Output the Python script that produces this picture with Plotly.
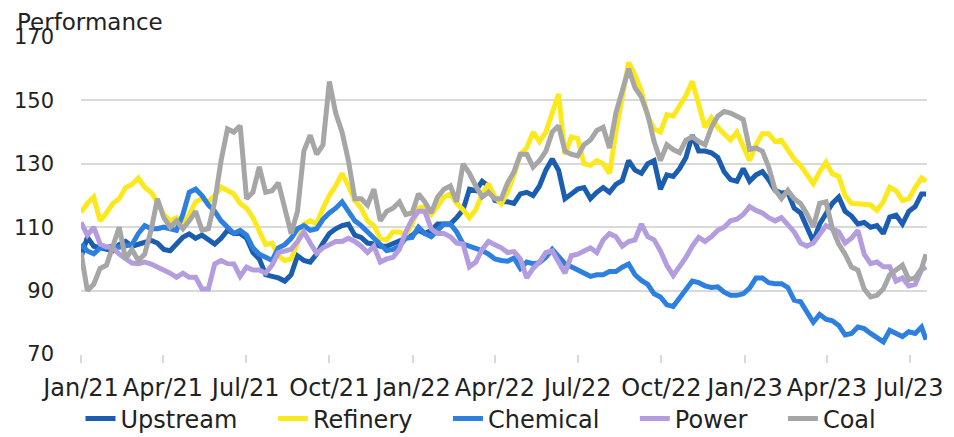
import pandas as pd
import plotly.graph_objects as go

# weekly observation dates (Fridays) from Jan 2021, plus the last observation
start_date = "2021-01-01"
n_weeks = 133
last_date = "2023-07-19"

upstream = [
    100.5, 106.8, 104, 103.5, 103, 102.6, 104.5, 105.5, 104, 104.7, 105, 105.8, 105, 103, 102.6, 104.5, 106.8,
    107.9, 106.5, 107.5, 106, 104.7, 106.5, 109, 108, 108, 106.5, 102, 100, 95, 94.5, 94, 93, 95,
    101, 99.5, 99, 101.5, 105, 108, 109.5, 110.5, 111, 107.5, 106.8, 105, 104.7, 104, 104, 104.7, 105.5,
    106.5, 107.5, 109, 108, 109, 111, 111, 111, 113, 115.5, 122, 121.5, 124.5, 123, 118.5,
    118, 118, 117.5, 120.5, 121, 120, 123, 128, 131.5, 128, 119, 120.5, 122, 122.5, 119, 121, 122.5,
    121, 123.5, 124.7, 131, 128, 127, 130, 131, 122, 126.5, 126, 128.5, 132, 139, 134, 134,
    133.5, 132, 127.5, 125, 124.5, 128.5, 124.5, 126.5, 127.5, 125, 121.6, 120.8, 121, 116, 114.5, 109.5,
    105.5, 111, 114, 117.5, 119.5, 115, 113.5, 111, 111.5, 110, 110.5, 108, 113.2, 113.8, 111, 115, 116.5,
    120.5, 120.5,
]

refinery = [
    114.7, 117.5, 119.5, 112, 114.5, 117.5, 119, 122.5, 123.5, 125.5, 122.6, 121, 118, 114, 112, 113, 111,
    114, 118, 119, 118, 120, 122.6, 121.5, 120.5, 117.5, 116, 113, 109, 104.5, 105, 101, 99.5, 100,
    105, 111, 112, 111, 116, 120, 123, 127, 123, 118.4, 116, 112, 110.5, 106.5, 106, 108.5, 108.5,
    107.5, 111, 116, 116.5, 114, 116.5, 119.5, 120.5, 117.5, 115.5, 113, 115.5, 120.5, 123.7, 119.5,
    117.4, 121, 126.5, 133, 135, 140, 137, 140, 146, 152, 133, 138.5, 138, 130, 129.5, 131, 130,
    127, 140, 152, 162, 158, 153, 145, 141, 140, 145.5, 145, 148, 151.5, 156, 148.5, 141.5,
    144.5, 141.5, 139.5, 137.5, 140, 135, 131, 136, 139.5, 139.5, 137, 137.4, 134.5, 131.5, 129.5, 126.8,
    123.7, 127.5, 130.5, 126.8, 126, 120, 117.5, 117.4, 117, 117, 115.3, 118, 122.6, 121.5, 118.4, 119,
    122.5, 125.5, 124.5,
]

chemical = [
    104.7, 102.5, 101.6, 103.5, 103.7, 104, 103.7, 104, 104.5, 108, 110.5, 109.5, 109.5, 110, 109.5, 109, 114,
    121, 122, 120, 117, 115, 112, 110, 108, 109, 107.5, 103.5, 101.5, 100.5, 99.5, 103.5, 104.5, 106.5,
    109.5, 110.5, 109, 109.5, 112.5, 114.5, 116, 118, 115, 112, 110.5, 108.5, 107, 104.7, 102.6, 103, 104,
    106.5, 106.8, 110, 108, 107, 109, 111, 111, 108.5, 104.7, 104, 103.5, 102.6, 101.5, 100,
    99.5, 99.3, 100.3, 97, 99, 98.5, 98.8, 100.5, 103, 101, 98.5, 97.5, 96.5, 95.5, 94.5, 95, 95,
    96, 96, 97.4, 98.4, 95, 93.2, 92, 89, 88, 85.5, 85, 87.5, 90, 93, 92.5, 91.5,
    91, 91.2, 89.5, 88.5, 88.5, 89, 90.8, 94, 94, 92.5, 92.2, 92.2, 91, 87, 86.5, 83,
    80, 82.5, 81, 80.5, 79, 76, 76.5, 78.5, 78, 76.5, 75, 73.8, 77.5, 76.5, 75.5, 77,
    76.5, 78.5, 74.5,
]

power = [
    111.5, 107.5, 110, 104.7, 103.7, 103.5, 101.5, 100, 98.7, 98.5, 99, 98.4, 97.5, 96.3, 95.5, 94.2, 95.5,
    94.2, 94.2, 90.5, 90.5, 98.4, 99.5, 98.5, 98.4, 94.5, 97.4, 96.5, 96.5, 95.5, 98, 102, 102.6, 103,
    105.5, 108.5, 105, 101.8, 103.5, 104.7, 105.5, 105.5, 106.5, 105.5, 104, 102, 104, 99, 100, 100.5, 103,
    108.5, 112.5, 115, 115, 109.5, 108, 108, 107, 105, 104.7, 97.5, 99, 103, 105.5, 104.5,
    103.5, 102, 102.3, 100, 94, 97, 99, 102, 102.5, 99, 95.5, 101, 101.5, 102.5, 103.5, 102, 106,
    108, 107, 104, 105.5, 106, 111, 107, 106, 102.5, 98, 94.8, 97.5, 100.5, 104, 106.8, 105.5,
    107, 109, 110, 112, 112.5, 114, 116.5, 115.3, 114.5, 113, 112, 113, 111, 108.5, 105, 104,
    105, 108, 110.5, 109.5, 108.5, 105, 106.5, 109, 101.5, 98.5, 99, 97.5, 97.5, 93, 94, 91.5,
    92, 96.5, 97.5,
]

coal = [
    102, 90, 92, 97, 98, 104, 110, 100, 103, 99.5, 101.5, 109, 119, 113, 110, 112, 109.5,
    112, 115, 109, 109.5, 118, 131, 141, 140, 142, 119, 121, 129, 121, 121.5, 124, 116, 108,
    115, 134, 139, 133, 136, 156, 146, 140, 131, 119, 119, 117, 122, 112, 115, 116, 118,
    114, 114.5, 120.5, 118, 114.5, 119.5, 122, 123, 118, 130, 127, 123, 119.5, 121, 119,
    119, 124, 127.5, 133, 133, 129, 131, 134, 140, 142, 134, 133, 132.5, 136, 137.5, 140.5, 141.5,
    135, 146, 153, 160, 154, 151, 145.5, 137, 131, 136, 134.5, 133.5, 137.5, 138.5, 137, 136,
    141.5, 145, 146.5, 146, 145, 144, 134.5, 135, 134, 129, 121.8, 119, 121.6, 119, 117.5, 114.2,
    110, 117.5, 118, 109.5, 104.7, 101.5, 97.4, 96.5, 90.5, 88, 88.5, 90.5, 95, 96.5, 98, 93.5,
    94, 97, 101.5,
]

series_names = ["Upstream", "Refinery", "Chemical", "Power", "Coal"]
series_colors = ["#1b5eb0", "#fbe91e", "#2d80e0", "#b39ddf", "#a6a6a6"]

tick_dates = ["2021-01-01", "2021-04-01", "2021-07-01", "2021-10-01", "2022-01-01", "2022-04-01",
              "2022-07-01", "2022-10-01", "2023-01-01", "2023-04-01", "2023-07-01"]
tick_labels = ["Jan/21", "Apr/21", "Jul/21", "Oct/21", "Jan/22", "Apr/22",
               "Jul/22", "Oct/22", "Jan/23", "Apr/23", "Jul/23"]
y_ticks = [70, 90, 110, 130, 150, 170]

dates = list(pd.date_range(start_date, periods=n_weeks, freq="7D")) + [pd.Timestamp(last_date)]

PAD = "\u00a0" * 4  # extra spacing between legend entries
fig = go.Figure()
all_series = [upstream, refinery, chemical, power, coal]
for i, (name, color, vals) in enumerate(zip(series_names, series_colors, all_series)):
    label = name + (PAD if i < len(series_names) - 1 else "")
    fig.add_trace(go.Scatter(x=dates, y=vals, mode="lines", name=label,
                             line=dict(color=color, width=5)))

FONT = "DejaVu Sans"
# the page body adds an 8px offset; the figure is sized to fill the rest of the window
fig.update_layout(
    width=946, height=429,
    margin=dict(l=73, r=27, t=29, b=83, autoexpand=False),
    paper_bgcolor="white", plot_bgcolor="white",
    font=dict(family=FONT, color="#222222", size=22),
    showlegend=True,
    legend=dict(orientation="h", xref="container", x=0.5, xanchor="center",
                yref="paper", y=-0.205, yanchor="middle",
                font=dict(size=24, family=FONT), itemwidth=30,
                bgcolor="rgba(0,0,0,0)"),
    xaxis=dict(type="date", range=["2021-01-01", "2023-07-20"], automargin=False,
               tickvals=tick_dates, ticktext=tick_labels, tickangle=0,
               ticks="outside", ticklen=8, tickwidth=1.5, tickcolor="#d9d9d9",
               showgrid=False, zeroline=False, showline=False,
               tickfont=dict(size=24, family=FONT), ticklabelstandoff=4),
    yaxis=dict(range=[70, 170], tickvals=y_ticks, showgrid=True, automargin=False,
               gridcolor="#d9d9d9", gridwidth=1.5, zeroline=False, showline=False,
               tickfont=dict(size=21, family=FONT), ticklabelstandoff=26),
    annotations=[dict(text="Performance", xref="paper", yref="paper",
                      x=-0.078, y=1, xanchor="left", yanchor="top", yshift=30,
                      showarrow=False, font=dict(size=23, family=FONT, color="#222222"))],
)

fig.write_html("out.html")
